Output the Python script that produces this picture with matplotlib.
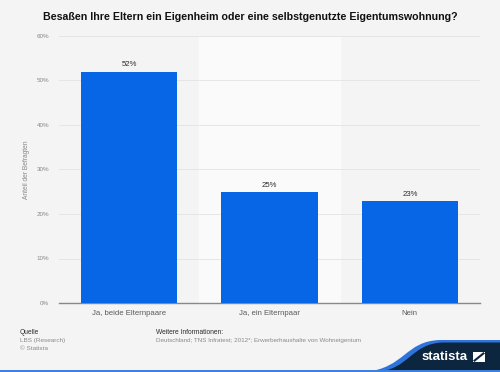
import matplotlib
matplotlib.use("Agg")
import matplotlib.pyplot as plt
from matplotlib.patches import PathPatch, Rectangle, Polygon
from matplotlib.path import Path

plt.rcParams["font.family"] = ["Liberation Sans", "DejaVu Sans"]

categories = ["Ja, beide Elternpaare", "Ja, ein Elternpaar", "Nein"]
values = [52, 25, 23]
yticks = [0, 10, 20, 30, 40, 50, 60]

W, H = 500, 372
fig = plt.figure(figsize=(5, 3.72), dpi=100)
fig.patch.set_facecolor("#f4f4f4")

ax = fig.add_axes([59 / W, (H - 303) / H, (480 - 59) / W, (303 - 36) / H])
ax.set_facecolor("#f4f4f4")
ax.axvspan(0.5, 1.5, color="#fafafa", zorder=0)
x = list(range(len(categories)))
ax.bar(x, values, width=0.685, color="#0766e6", zorder=3)
for xi, v in zip(x, values):
    ax.text(xi, v + 0.7, f"{v}%", ha="center", va="bottom", fontsize=5.6, color="#2a2a2a")
ax.set_xlim(-0.5, 2.5)
ax.set_ylim(0, 60)
ax.set_yticks(yticks)
ax.set_yticklabels([f"{t}%" for t in yticks], fontsize=4.5, color="#888888")
ax.set_xticks(x)
ax.set_xticklabels(categories, fontsize=5.6, color="#5a5a5a")
ax.tick_params(axis="x", length=0, pad=5)
ax.tick_params(axis="y", length=0, pad=7)
ax.grid(axis="y", color="#e3e3e3", linewidth=0.6, zorder=1)
for s in ["top", "right", "left"]:
    ax.spines[s].set_visible(False)
ax.spines["bottom"].set_color("#888888")
ax.spines["bottom"].set_linewidth(1.0)

fig.text(27 / W, 1 - 170 / H, "Anteil der Befragten", rotation=90, fontsize=4.8, color="#888888",
         ha="center", va="center")

fig.text(250 / W, 1 - 17 / H, "Besaßen Ihre Eltern ein Eigenheim oder eine selbstgenutzte Eigentumswohnung?",
         ha="center", va="center", fontsize=7.7, fontweight="bold", color="#111111")

fig.text(20 / W, 1 - 332 / H, "Quelle", fontsize=4.8, color="#2a2a2a", va="center")
fig.text(20 / W, 1 - 340.5 / H, "LBS (Research)", fontsize=4.6, color="#8a8a8a", va="center")
fig.text(20 / W, 1 - 349 / H, "© Statista", fontsize=4.6, color="#8a8a8a", va="center")
fig.text(156 / W, 1 - 332 / H, "Weitere Informationen:", fontsize=4.8, color="#2a2a2a", va="center")
fig.text(156 / W, 1 - 340.5 / H, "Deutschland; TNS Infratest; 2012*; Erwerberhaushalte von Wohneigentum",
         fontsize=4.5, color="#8a8a8a", va="center")

# statista logo shape
def P(px, py):
    return (px / W, 1 - py / H)

codes = [Path.MOVETO, Path.CURVE4, Path.CURVE4, Path.CURVE4, Path.LINETO, Path.LINETO, Path.CLOSEPOLY]
verts = [P(365, 372), P(405, 368), P(405, 341), P(440, 340), P(500, 340), P(500, 372), P(365, 372)]
fig.patches.append(PathPatch(Path(verts, codes), transform=fig.transFigure, facecolor="#2f74dc",
                             edgecolor="none", zorder=1))
verts2 = [P(375, 372), P(410, 370), P(410, 343.5), P(443, 342.5), P(500, 342.5), P(500, 372), P(375, 372)]
fig.patches.append(PathPatch(Path(verts2, codes), transform=fig.transFigure, facecolor="#0d2640",
                             edgecolor="none", zorder=2))
fig.patches.append(Rectangle(P(0, 372), 1, 2.2 / H, transform=fig.transFigure,
                             facecolor="#3c80e0", edgecolor="none", zorder=3))
fig.text(445 / W, 1 - 356.5 / H, "statista", fontsize=9.5, fontweight="bold", color="white",
         ha="center", va="center", zorder=4)
fig.patches.append(Polygon([P(473, 362), P(473, 352), P(485, 352), P(485, 362)], closed=True,
                           transform=fig.transFigure, facecolor="white", edgecolor="none", zorder=4))
fig.patches.append(Polygon([P(473, 360.5), P(483.5, 352), P(485, 353.5), P(474.5, 362)], closed=True,
                           transform=fig.transFigure, facecolor="#0d2640", edgecolor="none", zorder=5))

fig.savefig("out.png", dpi=100, facecolor=fig.get_facecolor())
